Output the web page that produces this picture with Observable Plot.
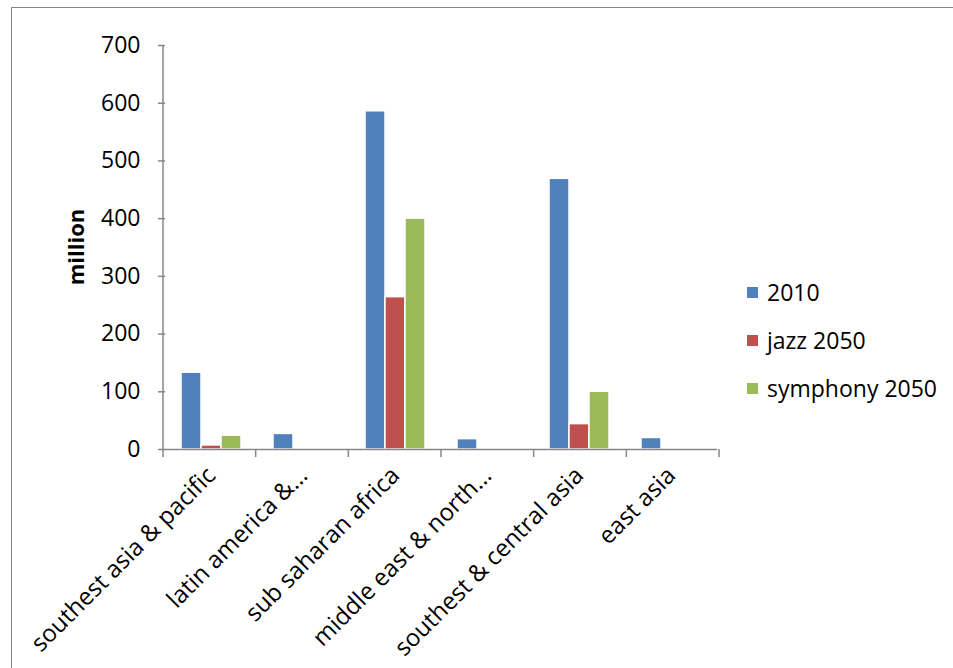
<!DOCTYPE html>
<html>
<head>
<meta charset="utf-8">
<script src="https://cdn.jsdelivr.net/npm/d3@7"></script>
<script src="https://cdn.jsdelivr.net/npm/@observablehq/plot@0.6"></script>
<style>
  html, body { margin: 0; padding: 0; background: #fff; }
  #wrap { position: relative; width: 953px; height: 668px; overflow: hidden; font-family: "Open Sans", sans-serif; }
  #frame { position: absolute; left: 11px; top: 7px; width: 1200px; height: 900px; border-left: 1.5px solid #868686; border-top: 1.5px solid #868686; }
  #chart { position: absolute; left: 0; top: 0; }
  #ylabel { position: absolute; left: 75px; top: 247px; transform: translate(-50%, -50%) rotate(-90deg); font-weight: bold; font-size: 22px; white-space: nowrap; }
  #legend { position: absolute; left: 747px; top: 268px; font-size: 23px; }
  #legend .item { display: flex; align-items: center; height: 48px; }
  #legend .sw { width: 11px; height: 11px; margin-right: 9px; }
</style>
</head>
<body>
<div id="wrap">
  <div id="frame"></div>
  <div id="chart"></div>
  <div id="ylabel">million</div>
  <div id="legend"></div>
</div>
<script>
// Regions along the x axis (long names are shown shortened)
const regions = [
  "southest asia & pacific",
  "latin america &…",
  "sub saharan africa",
  "middle east & north…",
  "southest & central asia",
  "east asia"
];
const seriesNames = ["2010", "jazz 2050", "symphony 2050"];

// Values in millions, one per region; null = no bar
const values2010     = [133, 27, 586, 18, 469, 20];
const valuesJazz     = [7, null, 264, null, 44, null];
const valuesSymphony = [24, null, 400, null, 100, null];

const seriesColors = ["#4F81BD", "#C0504D", "#9BBB59"];
const yTicks = [0, 100, 200, 300, 400, 500, 600, 700];

const seriesValues = [values2010, valuesJazz, valuesSymphony];
const rows = regions.flatMap((region, i) =>
  seriesNames.map((series, s) => ({region, series, value: seriesValues[s][i]}))
).filter(d => d.value != null);

const axisColor = "#868686";

const chart = Plot.plot({
  width: 953,
  height: 668,
  marginLeft: 163,
  marginRight: 234,
  marginTop: 45,
  marginBottom: 219,
  style: {fontFamily: "Open Sans, sans-serif", fontSize: "23px", color: "#000", background: "transparent", overflow: "visible"},
  fx: {domain: regions, padding: 0, label: null, axis: "bottom", tickRotate: -45, tickSize: 0, tickPadding: 22},
  x: {domain: seriesNames, paddingInner: 0, paddingOuter: 0.74, axis: null},
  y: {domain: [0, 700], ticks: yTicks, tickSize: 7, tickPadding: 18, label: null, tickFormat: d => String(d)},
  color: {domain: seriesNames, range: seriesColors},
  marks: [
    Plot.barY(rows, {
      fx: "region", x: "series", y: "value", fill: "series",
      stroke: "white", strokeWidth: 1.5,
      style: "filter: drop-shadow(1px 1px 1.5px rgba(0,0,0,0.22))"
    }),
    Plot.ruleY([0], {stroke: axisColor, strokeWidth: 1.5})
  ]
});

document.getElementById("chart").appendChild(chart);

// Axis styling and band-boundary tick marks drawn from the chart's own scales
const svg = d3.select(chart);
svg.selectAll("[aria-label='y-axis tick'] path, [aria-label='y-axis'] path").attr("stroke", axisColor).attr("stroke-width", 1.5);
svg.selectAll("[aria-label='y-axis'] .tick line").attr("stroke", axisColor);
svg.selectAll("[aria-label='fx-axis tick label'], [aria-label='fx-axis'] text").attr("font-size", 24);

const fxScale = chart.scale("fx");
const yScale = chart.scale("y");
const band = d3.scaleBand(fxScale.domain, fxScale.range).padding(0);
const y = d3.scaleLinear(yScale.domain, yScale.range);
const edges = regions.map(r => band(r)).concat([band(regions[regions.length - 1]) + band.bandwidth()]);
const g = svg.append("g").attr("stroke", axisColor).attr("stroke-width", 1.5);
g.append("line")
  .attr("x1", band.range()[0]).attr("x2", band.range()[0])
  .attr("y1", y(700)).attr("y2", y(0));
g.selectAll(".edge").data(edges).join("line")
  .attr("x1", d => d).attr("x2", d => d)
  .attr("y1", y(0)).attr("y2", y(0) + 8);

// Legend
const legend = d3.select("#legend");
seriesNames.forEach((name, i) => {
  const item = legend.append("div").attr("class", "item");
  item.append("div").attr("class", "sw").style("background", seriesColors[i]);
  item.append("span").text(name);
});
</script>
</body>
</html>
